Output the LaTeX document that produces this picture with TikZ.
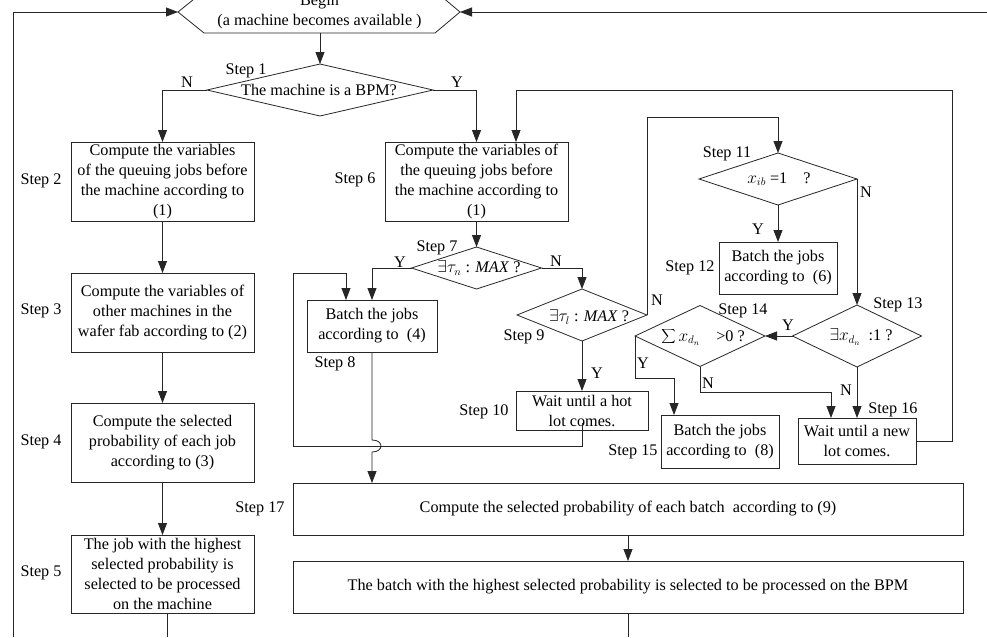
\documentclass[tikz,border=0pt]{standalone}
\usepackage{fontspec}
\setmainfont{Liberation Serif}
\usetikzlibrary{shapes.geometric,arrows.meta}
\begin{document}
\begin{tikzpicture}[x=1pt,y=-1pt,
  font=\fontsize{16.2}{20}\selectfont,
  ln/.style={line width=0.8pt, draw=black!85},
  arr/.style={ln, -{Triangle[length=12pt,width=9pt]}},
  box/.style={draw=black!85, line width=0.8pt, rectangle, align=center, inner sep=0pt, outer sep=0pt},
  dia/.style={draw=black!85, line width=0.8pt, diamond, inner sep=0pt, outer sep=0pt},
  lbl/.style={inner sep=0pt, outer sep=0pt, align=center},
]
\useasboundingbox (0,0) rectangle (987,637);
\clip (0,0) rectangle (987,637);

% ---------- begin hexagon ----------
\coordinate (hl) at (178,12);
\coordinate (hr) at (460,12);
\coordinate (hb) at (320,33);
\draw[ln] (hl) -- (204,-9) -- (435,-9) -- (hr) -- (435,33) -- (204,33) -- cycle;
\node[lbl] (begin) at (319.5,12) {Begin\\(a machine becomes available )};

% ---------- diamonds ----------
\node[dia, minimum width=226pt, minimum height=52pt] (d1) at (320,90) {};
\node[lbl] (d1t) at (319,90) {The machine is a BPM?};
\node[dia, minimum width=130pt, minimum height=42pt] (d7) at (476.5,268) {};
\node[lbl] (d7t) at (479,268) {$\exists\tau_n$ : \textit{MAX} ?};
\node[dia, minimum width=130pt, minimum height=52pt] (d9) at (582,315) {};
\node[lbl] (d9t) at (589,317) {$\exists\tau_l$ : \textit{MAX} ?};
\node[dia, minimum width=158pt, minimum height=52pt] (d11) at (778,179) {};
\node[lbl] (d11t) at (779,179) {$x_{ib}$ =1\quad ?};
\node[dia, minimum width=129pt, minimum height=62pt] (d13) at (857,336) {};
\node[lbl] (d13t) at (861,337) {$\exists x_{d_n}$\ \ :1 ?};
\node[dia, minimum width=130pt, minimum height=61pt] (d14) at (700,336) {};
\node[lbl] (d14t) at (703,337) {$\displaystyle\sum x_{d_n}$\quad >0 ?};

% ---------- boxes ----------
\node[box, minimum width=183pt, minimum height=79pt] (s2) at (162.5,181.5)
  {Compute the variables\\ of the queuing jobs before\\ the machine according to\\ (1)};
\node[box, minimum width=183pt, minimum height=79pt] (s3) at (162.5,312.5)
  {Compute the variables of\\ other machines in the\\ wafer fab according to (2)};
\node[box, minimum width=183pt, minimum height=79pt] (s4) at (162.5,442.5)
  {Compute the selected\\ probability of each job\\ according to (3)};
\node[box, minimum width=183pt, minimum height=78pt] (s5) at (162.5,574)
  {The job with the highest\\ selected probability is\\ selected to be processed\\ on the machine};
\node[box, minimum width=183pt, minimum height=79pt] (s6) at (476.5,181.5)
  {Compute the variables of\\ the queuing jobs before\\ the machine according to\\ (1)};
\node[box, minimum width=130pt, minimum height=52pt] (s8) at (372,326)
  {Batch the jobs\\ according to\ \ (4)};
\node[box, minimum width=132pt, minimum height=39pt] (s10) at (582,410.5)
  {Wait until a hot\\ lot comes.};
\node[box, minimum width=118pt, minimum height=52pt] (s12) at (778,268)
  {Batch the jobs\\ according to\ \ (6)};
\node[box, minimum width=118pt, minimum height=53pt] (s15) at (720,441.5)
  {Batch the jobs\\ according to\ \ (8)};
\node[box, minimum width=118pt, minimum height=46pt] (s16) at (857,441)
  {Wait until a new\\ lot comes.};
\node[box, minimum width=670pt, minimum height=52pt] (s17) at (628,509)
  {Compute the selected probability of each batch\ \ according to (9)};
\node[box, minimum width=670pt, minimum height=52pt] (s18) at (628,587)
  {The batch with the highest selected probability is selected to be processed on the BPM};

% ---------- step labels ----------
\node[lbl] (l1) at (246,71) {Step 1};
\node[lbl] (l2) at (41,181) {Step 2};
\node[lbl] (l3) at (41,311) {Step 3};
\node[lbl] (l4) at (41,442) {Step 4};
\node[lbl] (l5) at (41,573) {Step 5};
\node[lbl] (l6) at (355,180) {Step 6};
\node[lbl] (l7) at (437,248) {Step 7};
\node[lbl] (l8) at (335,364) {Step 8};
\node[lbl] (l9) at (524,337) {Step 9};
\node[lbl] (l10) at (484,412) {Step 10};
\node[lbl] (l11) at (727,154) {Step 11};
\node[lbl] (l12) at (690,268) {Step 12};
\node[lbl] (l13) at (898,305) {Step 13};
\node[lbl] (l14) at (743,311) {Step 14};
\node[lbl] (l15) at (633,452) {Step 15};
\node[lbl] (l16) at (893,410) {Step 16};
\node[lbl] (l17) at (260,509) {Step 17};

% ---------- Y / N labels ----------
\node[lbl] (n1) at (187,82) {N};
\node[lbl] (y1) at (457,82) {Y};
\node[lbl] (y7) at (400,262) {Y};
\node[lbl] (n7) at (556,261) {N};
\node[lbl] (n9) at (657,300) {N};
\node[lbl] (y9) at (597,373) {Y};
\node[lbl] (n11) at (866,192) {N};
\node[lbl] (y11) at (758,229) {Y};
\node[lbl] (y13) at (788,325) {Y};
\node[lbl] (n13) at (846,390) {N};
\node[lbl] (y14) at (643,363) {Y};
\node[lbl] (n14) at (708,383) {N};

% ---------- coordinates ----------
\coordinate (lb) at (13,637);
\coordinate (rb) at (987,12);
\coordinate (s5e) at (167,637);
\coordinate (s18e) at (628,637);
\coordinate (c9) at (647,117);
\coordinate (s10o) at (582,423);
\coordinate (lp1) at (582,446);
\coordinate (lp2) at (293,446);
\coordinate (lp3) at (293,273);
\coordinate (lp4) at (346,273);
\coordinate (h1) at (372,440);
\coordinate (h2) at (372,452);
\coordinate (c14a) at (635,378);
\coordinate (c14b) at (674,378);
\coordinate (c14c) at (700,392);
\coordinate (c14d) at (831,392);
\coordinate (c16a) at (952,441);
\coordinate (c16b) at (952,90);
\coordinate (c16c) at (516,90);

% ---------- connectors ----------
\draw[arr] (lb) |- (hl);
\draw[arr] (rb) -- (hr);
\draw[arr] (hb) -- (d1.north);
\draw[arr] (d1.west) -| (s2.north);
\draw[arr] (d1.east) -| (s6.north);
\draw[arr] (s2.south) -- (s3.north);
\draw[arr] (s3.south) -- (s4.north);
\draw[arr] (s4.south) -- (s5.north);
\draw[ln] (s5.south -| s5e) -- (s5e);
\draw[arr] (s6.south) -- (d7.north);
\draw[arr] (d7.west) -| (s8.north);
\draw[arr] (d7.east) -| (d9.north);
\draw[arr] (d9.south) -- (s10.north);
\draw[arr] (d9.east) -- (c9) -| (d11.north);
\draw[arr] (s10o) -- (lp1) -- (lp2) -- (lp3) -- (lp4) -- (lp4 |- s8.north);
\draw[arr] (s8.south) -- (h1) .. controls (384,440) and (384,452) .. (h2) -- (h2 |- s17.north);
\draw[arr] (d11.south) -- (s12.north);
\draw[arr] (d11.east) -- (d13.north);
\draw[arr] (d13.west) -- (d14.east);
\draw[arr] (d13.south) -- (s16.north);
\draw[arr] (d14.west) -- (c14a) -- (c14b) -- (c14b |- s15.north);
\draw[arr] (d14.south) -- (c14c) -- (c14d) -- (c14d |- s16.north);
\draw[arr] (s16.east) -- (c16a) -- (c16b) -- (c16c) -- (c16c |- s6.north);
\draw[arr] (s17.south) -- (s18.north);
\draw[ln] (s18.south) -- (s18e);
\end{tikzpicture}
\end{document}
